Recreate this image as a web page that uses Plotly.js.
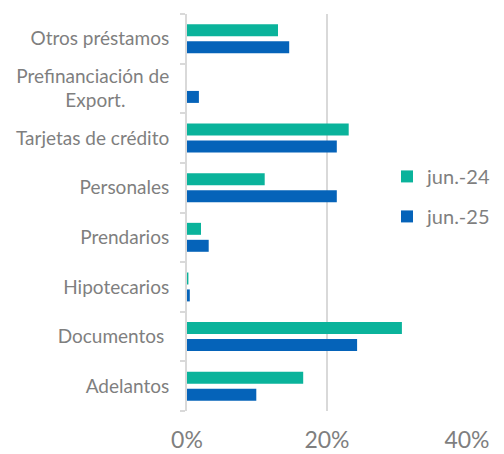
<!DOCTYPE html>
<html>
<head>
<meta charset="utf-8">
<script src="https://cdn.plot.ly/plotly-3.0.1.min.js"></script>
<style>
  html, body { margin: 0; padding: 0; background: #fff; }
  #chart { width: 504px; height: 454px; }
</style>
</head>
<body>
<div id="chart"></div>
<script>
// categorias de abajo hacia arriba
let categorias = ['Adelantos', 'Documentos ', 'Hipotecarios', 'Prendarios', 'Personales',
                  'Tarjetas de crédito',
                  'Prefinanciación de<br>Export.' + '\u00a0'.repeat(9),
                  'Otros préstamos'];
let valores_jun24 = [0.166, 0.307, 0.002, 0.020, 0.111, 0.231, 0, 0.130];
let valores_jun25 = [0.099, 0.243, 0.004, 0.031, 0.214, 0.214, 0.017, 0.146];

let gris_texto = '#7f7f7f';
let gris_linea = '#d9d9d9';

// jun.-25 va primero para que quede abajo en cada grupo
let trace_25 = {
    y: categorias,
    x: valores_jun25,
    name: 'jun.-25',
    type: 'bar',
    orientation: 'h',
    legendgroup: 'g25',
    legendrank: 2,
    marker: {color: '#0563b9'},
    hoverinfo: 'skip'
};

let trace_24 = {
    y: categorias,
    x: valores_jun24,
    name: 'jun.-24',
    type: 'bar',
    orientation: 'h',
    legendgroup: 'g24',
    legendrank: 1,
    marker: {color: '#0ab39b'},
    hoverinfo: 'skip'
};

var layout = {
    width: 504,
    height: 454,
    margin: {l: 187, r: 0, t: 14, b: 43},
    paper_bgcolor: '#fff',
    plot_bgcolor: '#fff',
    font: {family: 'Lato, sans-serif', color: gris_texto, size: 19},
    barmode: 'group',
    bargap: 0.316,
    bargroupgap: 0.294,
    showlegend: true,
    legend: {
        x: 0.631, xanchor: 'left',
        y: 0.64, yanchor: 'top',
        bgcolor: 'rgba(0,0,0,0)',
        font: {size: 20, color: gris_texto},
        traceorder: 'grouped',
        tracegroupgap: 11,
        itemwidth: 30
    },
    xaxis: {
        domain: [0, 280 / 317],
        range: [0, 0.4],
        dtick: 0.2,
        tickformat: '.0%',
        showgrid: true,
        gridcolor: gris_linea,
        gridwidth: 2,
        zeroline: false,
        showline: false,
        ticks: '',
        ticklabelstandoff: 13,
        tickfont: {size: 23, color: gris_texto}
    },
    yaxis: {
        type: 'category',
        showgrid: false,
        zeroline: false,
        showline: true,
        linecolor: gris_linea,
        linewidth: 2,
        ticks: 'outside',
        tickson: 'boundaries',
        ticklen: 5,
        tickcolor: gris_linea,
        tickwidth: 2,
        ticklabelstandoff: 12,
        tickfont: {size: 19, color: gris_texto}
    }
};

let config = {displayModeBar: false, staticPlot: true};

Plotly.newPlot('chart', [trace_25, trace_24], layout, config);
</script>
</body>
</html>
